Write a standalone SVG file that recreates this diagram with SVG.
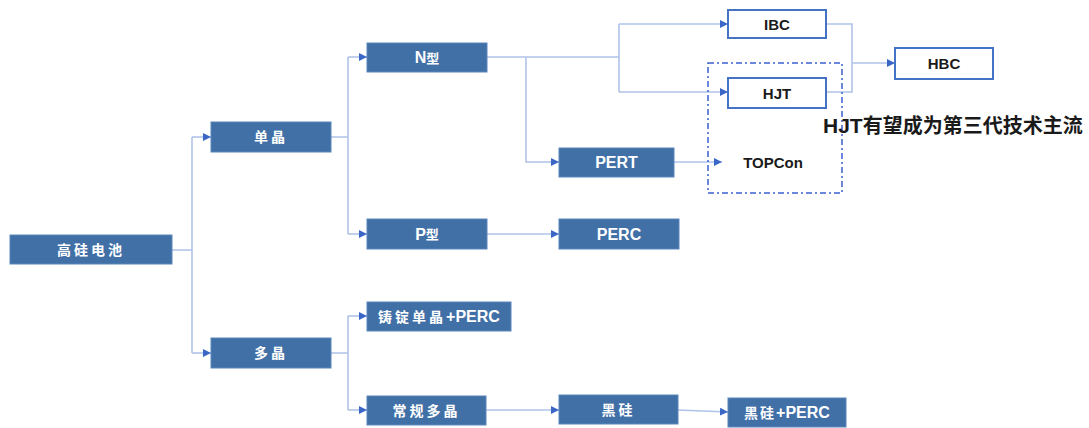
<svg xmlns="http://www.w3.org/2000/svg" width="1089" height="428" viewBox="0 0 1089 428">
<style>
.b{fill:#4170A7;stroke:#5A86BC;stroke-width:1}
.w{fill:#ffffff;stroke:#4472C4;stroke-width:2}
.t{font-family:"Liberation Sans","Noto Sans CJK SC",sans-serif;font-weight:bold;font-size:16px;fill:#ffffff;text-anchor:middle;dominant-baseline:central}
.c{font-size:14px;letter-spacing:3px}
.k{font-family:"Liberation Sans","Noto Sans CJK SC",sans-serif;font-weight:bold;font-size:15px;fill:#1a1a1a;text-anchor:middle;dominant-baseline:central}
.l{fill:none;stroke:#AFC3E8;stroke-width:1.6}
.la{fill:none;stroke:#AFC3E8;stroke-width:1.6;marker-end:url(#ah)}
</style>
<defs>
<marker id="ah" viewBox="0 0 10 10" refX="10" refY="5" markerWidth="8" markerHeight="8" markerUnits="userSpaceOnUse" orient="auto">
<path d="M0,0 L10,5 L0,10 z" fill="#3A66C6"/>
</marker>
</defs>
<rect width="1089" height="428" fill="#ffffff"/>
<g id="connectors">
<path class="l" d="M172,250 H192 M192,137 V353 M331,137 H348 M348,57 V234 M487,57 H619 M619,24 V92 M826,24 H852 V92 H826 M331,353 H348 M348,316 V410"/>
<path class="la" d="M192,137 H211"/>
<path class="la" d="M192,353 H211"/>
<path class="la" d="M348,57 H367"/>
<path class="la" d="M348,234 H367"/>
<path class="la" d="M619,24 H728"/>
<path class="la" d="M619,92 H728"/>
<path class="la" d="M526,57 V162 H559"/>
<path class="la" d="M852,63 H895"/>
<path class="la" d="M674,162 H722"/>
<path class="la" d="M487,234 H559"/>
<path class="la" d="M348,316 H367"/>
<path class="la" d="M348,410 H367"/>
<path class="la" d="M486,410 H559"/>
<path class="la" d="M678,410 L728,412"/>
</g>
<g id="hjt-group">
<rect x="708" y="63" width="134" height="130" fill="none" stroke="#3D5FD0" stroke-width="1.5" stroke-dasharray="6 3 2 3"/>
</g>
<g id="n-gaoxi"><rect class="b" x="10" y="235" width="162" height="29"/><text class="t c" x="91" y="249.5">高硅电池</text></g>
<g id="n-danjing"><rect class="b" x="211" y="122" width="120" height="30"/><text class="t c" x="271" y="137">单晶</text></g>
<g id="n-duojing"><rect class="b" x="211" y="338" width="120" height="30"/><text class="t c" x="271" y="353">多晶</text></g>
<g id="n-ntype"><rect class="b" x="367" y="43" width="120" height="29"/><text class="t" x="427" y="57.5">N<tspan font-size="13">型</tspan></text></g>
<g id="n-ptype"><rect class="b" x="367" y="219" width="120" height="30"/><text class="t" x="427" y="234">P<tspan font-size="13">型</tspan></text></g>
<g id="n-ibc"><rect class="w" x="728" y="10" width="98" height="28"/><text class="k" x="777" y="24">IBC</text></g>
<g id="n-hjt"><rect class="w" x="728" y="78" width="98" height="30"/><text class="k" x="777" y="93" font-size="16">HJT</text></g>
<g id="n-hbc"><rect class="w" x="895" y="48" width="98" height="31"/><text class="k" x="944" y="63.5">HBC</text></g>
<g id="n-pert"><rect class="b" x="559" y="148" width="115" height="29"/><text class="t" x="616.5" y="162.5">PERT</text></g>
<g id="n-topcon"><text class="k" x="773" y="162" font-size="14">TOPCon</text></g>
<g id="n-perc"><rect class="b" x="559" y="219" width="120" height="30"/><text class="t" x="619" y="234">PERC</text></g>
<g id="n-zhuding"><rect class="b" x="367" y="302" width="144" height="29"/><text class="t" x="439" y="316.5"><tspan font-size="14" letter-spacing="3">铸锭单晶</tspan>+PERC</text></g>
<g id="n-changgui"><rect class="b" x="367" y="396" width="119" height="29"/><text class="t c" x="426.5" y="410.5">常规多晶</text></g>
<g id="n-heigui"><rect class="b" x="559" y="395" width="119" height="29"/><text class="t c" x="618.5" y="409.5">黑硅</text></g>
<g id="n-heigui-perc"><rect class="b" x="728" y="398" width="118" height="29"/><text class="t" x="787" y="412.5"><tspan font-size="14" letter-spacing="2">黑硅</tspan>+PERC</text></g>
<g id="note"><text x="823" y="133" font-family="'Liberation Serif','Noto Sans CJK SC',serif" font-weight="bold" font-size="20" fill="#1a1a1a"><tspan font-family="'Liberation Sans',sans-serif" font-size="21">HJT</tspan>有望成为第三代技术主流</text></g>
</svg>
